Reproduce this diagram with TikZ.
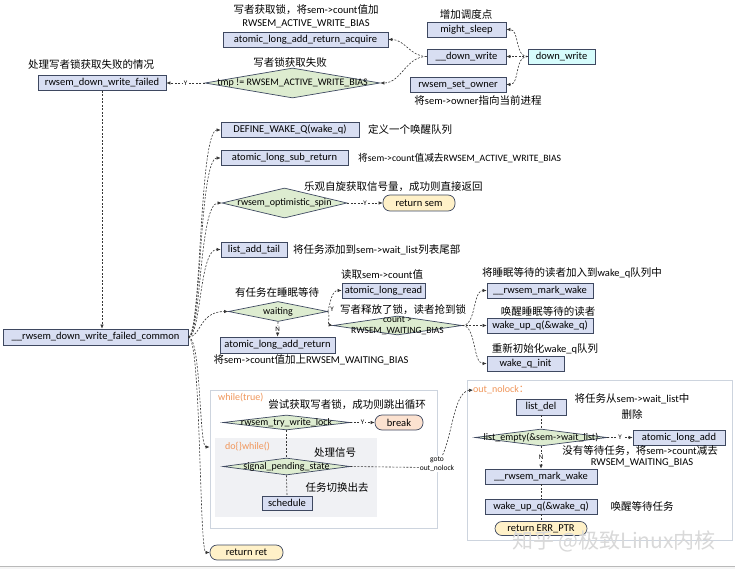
\documentclass[tikz,border=0pt]{standalone}
\usepackage{fontspec}
\setmainfont{Carlito}
\newfontfamily\cjkfont{Noto Sans CJK SC}
\usetikzlibrary{shapes.geometric,arrows.meta,calc,shadows}
\newcommand\zh[1]{{\cjkfont #1}}
\newcommand\boxfnt{\fontsize{10.5}{12}\selectfont}
\newcommand\diafnt{\fontsize{10}{11}\selectfont}
\newcommand\labfnt{\fontsize{10.5}{12}\selectfont}
\newcommand\ynfnt{\fontsize{7}{8}\selectfont}
\definecolor{boxfill}{RGB}{216,222,242}
\definecolor{boxdraw}{RGB}{62,72,96}
\definecolor{diafill}{RGB}{221,236,208}
\definecolor{termfill}{RGB}{255,241,200}
\definecolor{brkfill}{RGB}{252,226,208}
\definecolor{cyanfill}{RGB}{214,252,252}
\definecolor{orangetxt}{RGB}{240,150,90}
\definecolor{contdraw}{RGB}{205,212,222}
\definecolor{dofill}{RGB}{240,241,244}
\definecolor{linecol}{RGB}{55,55,55}
\tikzset{
  box/.style={rectangle, draw=boxdraw, fill=boxfill, line width=0.7pt, inner sep=0pt, font=\boxfnt},
  cyanbox/.style={box, fill=cyanfill},
  term/.style={rectangle, rounded corners=7pt, draw=boxdraw, fill=termfill, line width=0.7pt, inner sep=0pt, font=\boxfnt},
  brk/.style={term, fill=brkfill},
  dia/.style={diamond, draw=boxdraw, fill=diafill, line width=0.7pt, inner sep=0pt},
  dtext/.style={font=\diafnt, inner sep=0pt},
  cont/.style={rectangle, draw=contdraw, fill=white, line width=0.8pt, inner sep=0pt,
    drop shadow={shadow xshift=1.2pt, shadow yshift=-1.2pt, opacity=0.12}},
  dobox/.style={rectangle, fill=dofill, inner sep=0pt},
  lbl/.style={font=\labfnt, inner sep=0pt},
  olbl/.style={font=\fontsize{10}{12}\selectfont, text=orangetxt, inner sep=0pt, anchor=west},
  conn/.style={draw=linecol, line width=0.6pt, dash pattern=on 2pt off 1.5pt},
  arr/.style={conn, -{Latex[length=4pt,width=3.5pt]}},
  yn/.style={font=\ynfnt, fill=white, inner sep=0.8pt},
}
\begin{document}
\begin{tikzpicture}[x=1pt,y=-1pt]
\useasboundingbox (0,0) rectangle (735,569);
\fill[white] (0,0) rectangle (735,569);
\fill[gray!8] (0,566) rectangle (735,569);
\draw[gray!55, line width=0.8pt] (0,566) -- (735,566);

% containers
\node[cont, minimum width=227, minimum height=138] (whilebox) at (323.5,459) {};
\node[dobox, minimum width=162, minimum height=79] (dobox) at (296,477.5) {};
\node[cont, minimum width=265, minimum height=160] (outbox) at (599.5,460) {};
\node[olbl] (whlbl) at (218,398) {while(true)};
\node[olbl] (dolbl) at (225,447) {do\{\}while()};
\node[olbl] (outlbl) at (473,390) {out\_nolock\zh{：}};

% top area
\node[lbl] (l1) at (306,10) {\zh{写者获取锁，将}sem->count\zh{值加}};
\node[lbl] (l2) at (306,24) {RWSEM\_ACTIVE\_WRITE\_BIAS};
\node[box, minimum width=165, minimum height=15] (acq) at (305.5,39.5) {atomic\_long\_add\_return\_acquire};
\node[lbl] (l3) at (466,14) {\zh{增加调度点}};
\node[box, minimum width=79, minimum height=15] (msleep) at (466.5,29.5) {might\_sleep};
\node[box, minimum width=79, minimum height=15] (dwin) at (466.5,56.5) {\_\_down\_write};
\node[box, minimum width=96, minimum height=15] (owner) at (458,84.5) {rwsem\_set\_owner};
\node[lbl] (l4) at (478,100) {\zh{将}sem->owner\zh{指向当前进程}};
\node[cyanbox, minimum width=67, minimum height=15] (downw) at (561.5,56.5) {down\_write};
\node[lbl] (l5) at (290,62) {\zh{写者锁获取失败}};
\node[dia, minimum width=175, minimum height=30, label={[dtext]center:tmp != RWSEM\_ACTIVE\_WRITE\_BIAS}] (tmp) at (292.5,83) {};
\node[lbl] (l6) at (91,64) {\zh{处理写者锁获取失败的情况}};
\node[box, minimum width=128, minimum height=15] (failed) at (102,83) {rwsem\_down\_write\_failed};

% common
\node[box, minimum width=185, minimum height=16] (common) at (95.5,337) {\_\_rwsem\_down\_write\_failed\_common};
\coordinate (trunk) at (199,0);

\node[box, minimum width=138, minimum height=15] (defq) at (290,130) {DEFINE\_WAKE\_Q(wake\_q)};
\node[lbl, anchor=west] (l7) at (368,130) {\zh{定义一个唤醒队列}};
\node[box, minimum width=127, minimum height=15] (sub) at (284.5,158) {atomic\_long\_sub\_return};
\node[lbl, anchor=west, font=\fontsize{9.7}{11}\selectfont] (l8) at (358,158) {\zh{将}sem->count\zh{值减去}RWSEM\_ACTIVE\_WRITE\_BIAS};
\node[lbl, anchor=west] (l9) at (304,187) {\zh{乐观自旋获取信号量，成功则直接返回}};
\node[dia, minimum width=125, minimum height=30, label={[dtext]center:rwsem\_optimistic\_spin}] (spin) at (284.5,203) {};
\node[term, minimum width=72, minimum height=16] (retsem) at (419,203) {return sem};
\node[box, minimum width=66, minimum height=15] (listadd) at (254,249.5) {list\_add\_tail};
\node[lbl, anchor=west] (l10) at (293,249.5) {\zh{将任务添加到}sem->wait\_list\zh{列表尾部}};

\node[lbl] (l11) at (277,292) {\zh{有任务在睡眠等待}};
\node[dia, minimum width=99, minimum height=20, label={[dtext]center:waiting}] (waiting) at (278,311.5) {};
\node[box, minimum width=115, minimum height=16] (addret) at (277.5,345) {atomic\_long\_add\_return};
\node[lbl] (l12) at (311,360) {\zh{将}sem->count\zh{值加上}RWSEM\_WAITING\_BIAS};
\node[lbl] (l13) at (382,275) {\zh{读取}sem->count\zh{值}};
\node[box, minimum width=83, minimum height=15] (read) at (383.5,290.5) {atomic\_long\_read};
\node[lbl] (l14) at (403,310) {\zh{写者释放了锁，读者抢到锁}};
\node[dia, minimum width=129, minimum height=19, label={[dtext, align=center, font=\fontsize{9.5}{11}\selectfont]center:count >\\RWSEM\_WAITING\_BIAS}] (count) at (397.5,325.5) {};
\node[lbl] (l15) at (572,273) {\zh{将睡眠等待的读者加入到}wake\_q\zh{队列中}};
\node[box, minimum width=106, minimum height=15] (markw) at (540,290.5) {\_\_rwsem\_mark\_wake};
\node[lbl] (l16) at (548,312) {\zh{唤醒睡眠等待的读者}};
\node[box, minimum width=106, minimum height=15] (wuq) at (540,325.5) {wake\_up\_q(\&wake\_q)};
\node[lbl] (l17) at (545,349) {\zh{重新初始化}wake\_q\zh{队列}};
\node[box, minimum width=77, minimum height=15] (wqinit) at (525.5,363.5) {wake\_q\_init};

% while loop
\node[lbl] (l18) at (347,405) {\zh{尝试获取写者锁，成功则跳出循环}};
\node[dia, minimum width=127, minimum height=15, label={[dtext]center:rwsem\_try\_write\_lock}] (trylock) at (286.5,422.5) {};
\node[brk, minimum width=48, minimum height=15] (brk) at (399,422.5) {break};
\node[lbl] (l19) at (335,453) {\zh{处理信号}};
\node[dia, minimum width=127, minimum height=17, label={[dtext]center:signal\_pending\_state}] (sigp) at (286.5,466.5) {};
\node[lbl] (l20) at (337,488) {\zh{任务切换出去}};
\node[box, minimum width=50, minimum height=14] (sched) at (287,503) {schedule};
\node[term, minimum width=73, minimum height=15] (retret) at (246.5,552.5) {return ret};

% out_nolock
\node[box, minimum width=50, minimum height=16] (listdel) at (541,407) {list\_del};
\node[lbl] (l21) at (632,399) {\zh{将任务从}sem->wait\_list\zh{中}};
\node[lbl] (l22) at (632,414) {\zh{删除}};
\node[dia, minimum width=132, minimum height=17, label={[dtext]center:list\_empty(\&sem->wait\_list)}] (lempty) at (541,437.5) {};
\node[box, minimum width=92, minimum height=15] (aladd) at (679,437.5) {atomic\_long\_add};
\node[lbl] (l23) at (640,451) {\zh{没有等待任务，将}sem->count\zh{减去}};
\node[lbl] (l24) at (642,463) {RWSEM\_WAITING\_BIAS};
\node[box, minimum width=112, minimum height=15] (mw2) at (541,476.5) {\_\_rwsem\_mark\_wake};
\node[box, minimum width=112, minimum height=15] (wuq2) at (541,506.5) {wake\_up\_q(\&wake\_q)};
\node[lbl] (l25) at (642,506.5) {\zh{唤醒等待任务}};
\node[term, minimum width=92, minimum height=14] (reterr) at (541,528.5) {return ERR\_PTR};

% connectors: top
\draw[arr] (downw.west) to[out=180,in=0] (msleep.east);
\draw[arr] (downw.west) -- (dwin.east);
\draw[arr] (downw.west) to[out=180,in=0] (owner.east);
\draw[arr] (dwin.west) to[out=180,in=0] (acq.east);
\draw[arr] (dwin.west) to[out=180,in=0] (tmp.east);
\draw[arr] (tmp.west) -- node[yn] {Y} (failed.east);
\draw[arr] (failed.south) -- (failed.south |- common.north);

% connectors: common trunk
\coordinate (whileIn) at (whilebox.west |- dolbl.west);
\foreach \t in {defq,sub,spin,listadd,waiting,whileIn,retret}{
  \draw[arr] (common.east) .. controls ($(common.east)+(13,0)$) and (\t -| trunk) .. (\t);
}
\draw[arr] (spin.east) -- node[yn] {Y} (retsem.west);
\draw[arr] (waiting.south) -- node[yn] {N} (addret.north);
\draw[arr] (waiting.east) to[out=75,in=180] (read.west);
\draw[arr] (waiting.east) to[out=-60,in=170] (count.west);
\node[yn, fill=none] (wy) at (332,309) {Y};
\draw[arr] (count.east) .. controls +(14,0) and +(-14,0) .. (markw.west);
\draw[arr] (count.east) -- (wuq.west);
\draw[arr] (count.east) .. controls +(14,0) and +(-14,0) .. (wqinit.west);

% connectors: loop
\draw[arr] (trylock.east) -- node[yn] {Y} (brk.west);
\draw[conn] (trylock.south) -- (sigp.north);
\draw[conn] (sigp.south) -- (sched.north);
\coordinate (gbend) at (428,467.5);
\draw[arr] (sigp.east) -- (gbend) .. controls (453,468) and (449,392) .. (outlbl.west);
\node[font=\fontsize{7.5}{8.5}\selectfont, align=center, fill=white, inner sep=0.5pt] (gotolbl) at (437,464) {goto\\out\_nolock};

% connectors: out_nolock
\draw[conn] (listdel.south) -- (lempty.north);
\draw[arr] (lempty.east) -- node[yn] {Y} (aladd.west);
\draw[arr] (lempty.south) -- node[yn] {N} (mw2.north);
\draw[conn] (mw2.south) -- (wuq2.north);
\draw[conn] (wuq2.south) -- (reterr.north);

% watermark
\node[font=\fontsize{21}{24}\selectfont\cjkfont, text=gray!30, inner sep=0pt] (wm) at (614,541) {知乎 @极致Linux内核};
\end{tikzpicture}
\end{document}
